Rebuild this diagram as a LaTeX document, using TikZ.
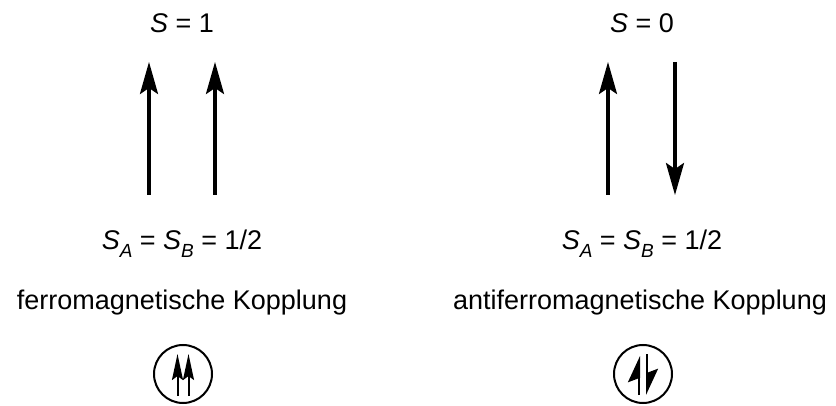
\documentclass[tikz,border=0pt]{standalone}
\usepackage{fontspec}
\setmainfont{Liberation Sans}
\usetikzlibrary{arrows.meta}
\newcommand{\subA}[1]{\raisebox{-0.28em}{\fontsize{19}{19}\selectfont\itshape #1}}
\tikzset{
  lbl/.style={font=\fontsize{27}{32}\selectfont, anchor=base, inner sep=0pt},
  spin/.style={line width=3.4pt, -{Stealth[length=32pt,width=18pt,inset=6pt]}},
  minispin/.style={line width=2pt, -{Stealth[length=26pt,width=11pt,inset=4pt]}},
  halfspin/.style={line width=2pt, -{Stealth[length=24pt,width=22pt,inset=4pt,harpoon]}},
  ring/.style={draw, circle, line width=2pt, minimum size=58pt, inner sep=0pt}
}
\begin{document}
\begin{tikzpicture}[x=1pt,y=-1pt]
\useasboundingbox (0,0) rectangle (836,406);
% left group
\node[lbl] (s1) at (182,33) {\textit{S} = 1};
\coordinate (la1) at (149,195); \coordinate (la1t) at (149,62);
\coordinate (la2) at (215,195); \coordinate (la2t) at (215,62);
\draw[spin] (la1) -- (la1t);
\draw[spin] (la2) -- (la2t);
\node[lbl] (sab1) at (182,250) {\textit{S}\subA{A} = \textit{S}\subA{B} = 1/2};
\node[lbl] (ferro) at (182,309) {ferromagnetische Kopplung};
\node[ring] (c1) at (183,374) {};
\coordinate (c1a) at (177.5,396); \coordinate (c1at) at (177.5,354);
\coordinate (c1b) at (188.5,396); \coordinate (c1bt) at (188.5,354);
\draw[minispin] (c1a) -- (c1at);
\draw[minispin] (c1b) -- (c1bt);
% right group
\node[lbl] (s0) at (642,33) {\textit{S} = 0};
\coordinate (ra1) at (608,195); \coordinate (ra1t) at (608,62);
\coordinate (ra2) at (675,62); \coordinate (ra2t) at (675,195);
\draw[spin] (ra1) -- (ra1t);
\draw[spin] (ra2) -- (ra2t);
\node[lbl] (sab2) at (642,250) {\textit{S}\subA{A} = \textit{S}\subA{B} = 1/2};
\node[lbl] (antiferro) at (640,309) {antiferromagnetische Kopplung};
\node[ring] (c2) at (643,374) {};
\coordinate (c2a) at (639,395); \coordinate (c2at) at (639,356);
\coordinate (c2b) at (647,354); \coordinate (c2bt) at (647,395);
\draw[halfspin] (c2a) -- (c2at);
\draw[halfspin] (c2b) -- (c2bt);
\end{tikzpicture}
\end{document}
